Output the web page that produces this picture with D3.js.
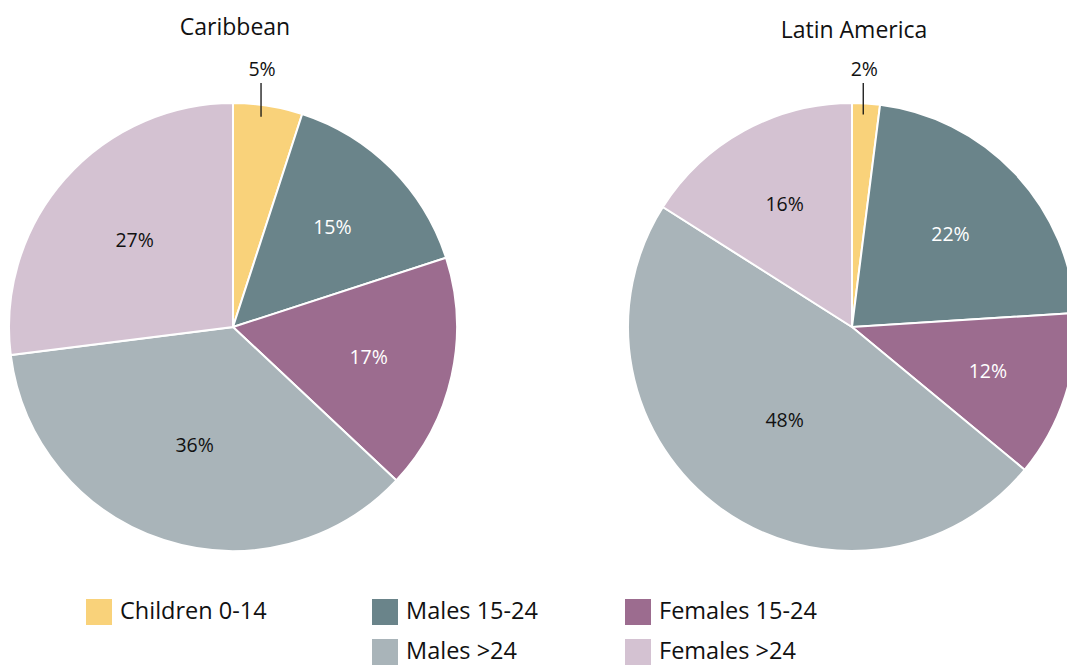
<!DOCTYPE html>
<html><head><meta charset="utf-8">
<script src="https://cdn.jsdelivr.net/npm/d3@7"></script>
<style>body{margin:0;background:#fff}svg{display:block}text{font-family:"Open Sans","Liberation Sans",sans-serif}</style>
</head><body><svg id="c" width="1067" height="667"></svg>
<script>
const categories = ["Children 0-14","Males 15-24","Females 15-24","Males >24","Females >24"];
const colors = ["#F9D27A","#6A848A","#9C6C8F","#A9B4B9","#D4C2D2"];
const labelColors = ["#111","#fff","#fff","#111","#111"];
const regions = ["Caribbean","Latin America"];
const caribbean = [5,15,17,36,27];
const latinAmerica = [2,22,12,48,16];
const seriesValues = [caribbean, latinAmerica];

const svg = d3.select("#c");
const R = 224;
const centers = [[233,327],[852,327]];
const pie = d3.pie().sort(null).value(d=>d);
const arc = d3.arc().innerRadius(0).outerRadius(R);

seriesValues.forEach((vals,i)=>{
  const [cx,cy] = centers[i];
  const g = svg.append("g").attr("transform",`translate(${cx},${cy})`);
  const arcs = pie(vals);
  g.selectAll("path").data(arcs).join("path")
    .attr("d",arc).attr("fill",(d,j)=>colors[j])
    .attr("stroke","#fff").attr("stroke-width",2);
  arcs.forEach((d,j)=>{
    const mid=(d.startAngle+d.endAngle)/2;
    const frac=d.value/100;
    if(frac<0.08){
      const x=Math.sin(mid)*R*0.8;
      const y1=-Math.cos(mid)*R*0.95;
      g.append("line").attr("x1",x).attr("x2",x).attr("y1",y1).attr("y2",-R-20)
        .attr("stroke","#111").attr("stroke-width",1.3);
      g.append("text").attr("x",x+1).attr("y",-R-27).attr("text-anchor","middle")
        .attr("font-size",19.5).attr("fill","#111").text(d.value+"%");
    } else {
      const lr=R*(0.68-0.35*frac);
      g.append("text").attr("x",Math.sin(mid)*lr).attr("y",-Math.cos(mid)*lr)
        .attr("dy","0.35em").attr("text-anchor","middle").attr("font-size",19.5)
        .attr("fill",labelColors[j]).text(d.value+"%");
    }
  });
  svg.append("text").attr("x",cx+2).attr("y",i===0?35:38).attr("text-anchor","middle")
    .attr("font-size",23).attr("fill","#111").text(regions[i]);
});

const legendPos = [[86,599],[372,599],[625,599],[372,639],[625,639]];
categories.forEach((c,j)=>{
  const [x,y]=legendPos[j];
  svg.append("rect").attr("x",x).attr("y",y).attr("width",26).attr("height",26).attr("fill",colors[j]);
  svg.append("text").attr("x",x+34).attr("y",y+13).attr("dy","0.3em")
    .attr("font-size",23.5).attr("fill","#111").text(c);
});
</script></body></html>
